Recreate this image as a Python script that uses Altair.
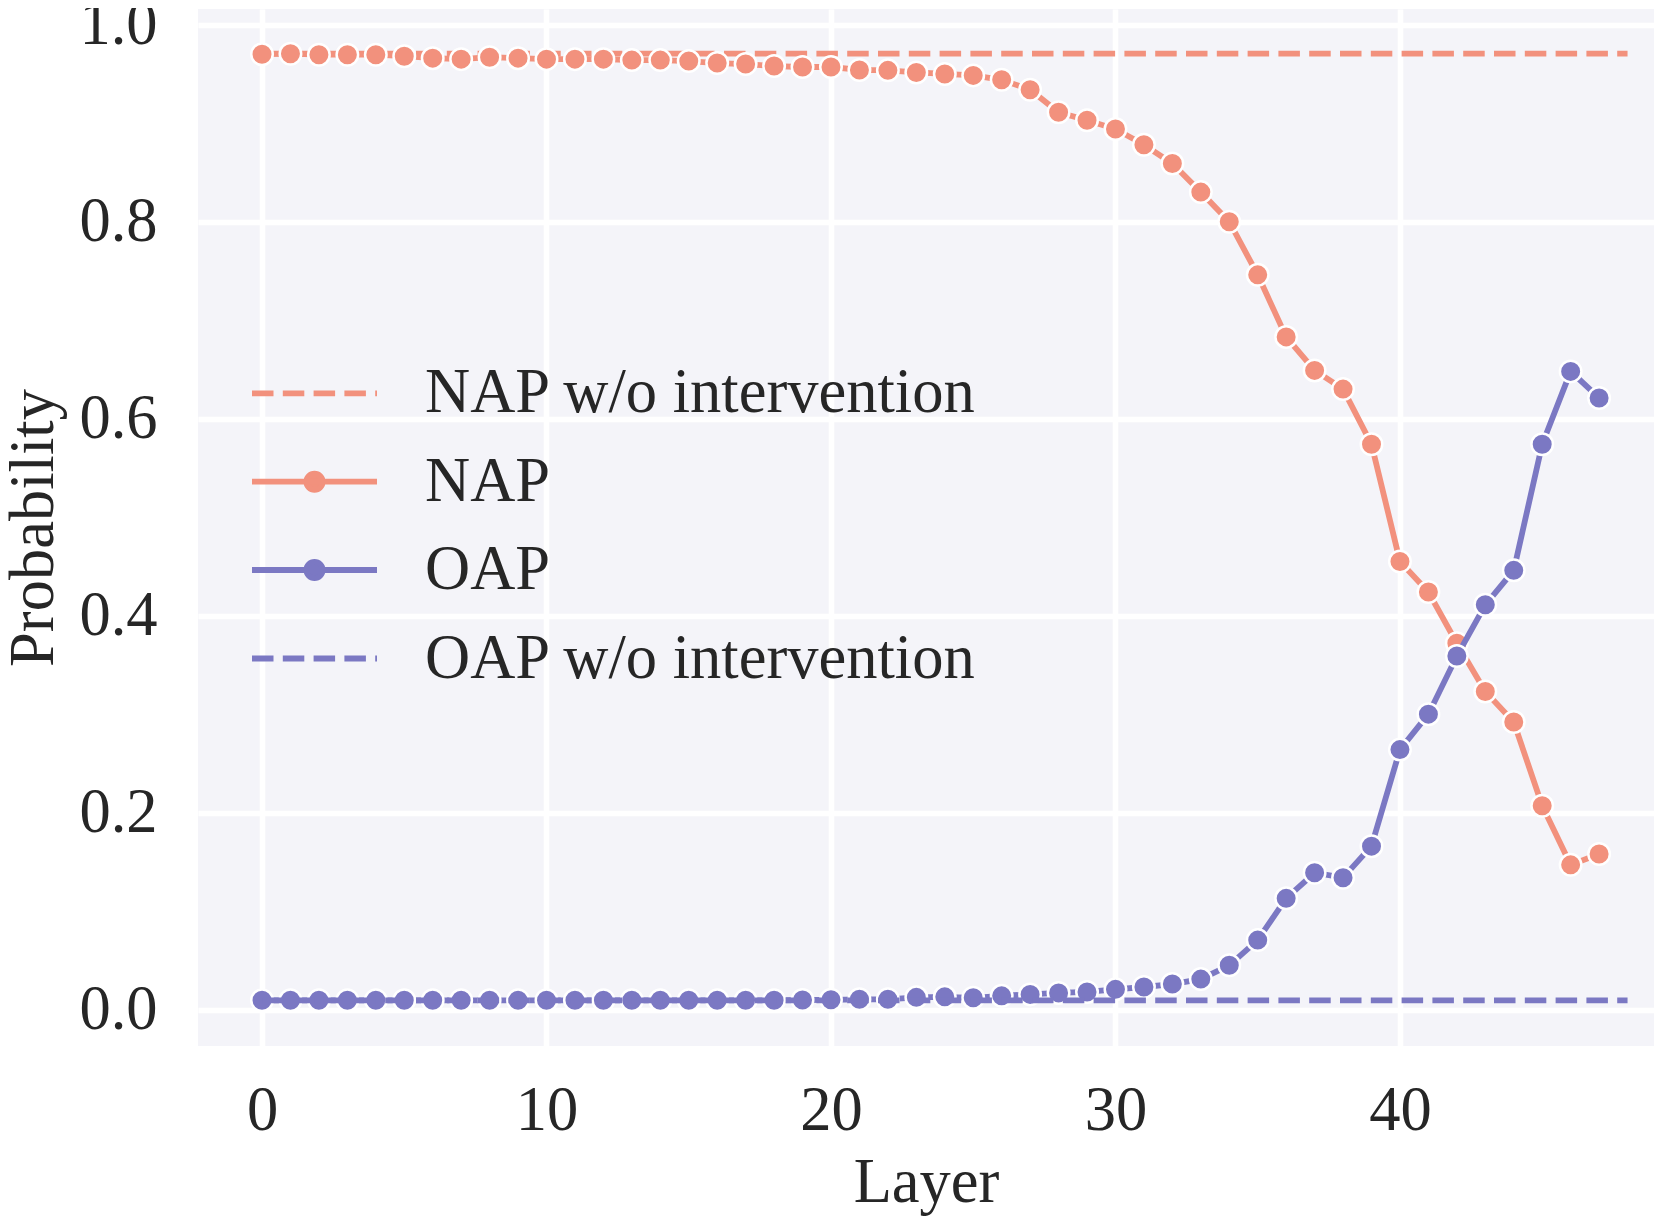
import altair as alt
import pandas as pd

# ---- data ----
layers = list(range(48))
nap = [0.970, 0.9705, 0.9695, 0.9695, 0.9695, 0.968, 0.966, 0.965, 0.967, 0.966,
       0.965, 0.965, 0.965, 0.964, 0.964, 0.963, 0.961, 0.960, 0.958, 0.957,
       0.957, 0.954, 0.9536, 0.9515, 0.950, 0.9485, 0.944, 0.934, 0.911, 0.903,
       0.894, 0.878, 0.859, 0.830, 0.800, 0.746, 0.683, 0.649, 0.630, 0.574,
       0.455, 0.424, 0.372, 0.323, 0.292, 0.207, 0.147, 0.158]
oap = [0.0095, 0.0095, 0.0095, 0.0095, 0.0095, 0.0095, 0.0095, 0.0095, 0.0095, 0.0095,
       0.0095, 0.0095, 0.0095, 0.0095, 0.0095, 0.0095, 0.0095, 0.0095, 0.0095, 0.0098,
       0.0100, 0.0105, 0.0105, 0.0125, 0.013, 0.012, 0.014, 0.0155, 0.017, 0.018,
       0.0206, 0.023, 0.026, 0.031, 0.045, 0.0706, 0.113, 0.139, 0.134, 0.166,
       0.264, 0.300, 0.359, 0.411, 0.446, 0.574, 0.648, 0.621]
nap_wo = 0.9705
oap_wo = 0.0095
labels = ["NAP w/o intervention", "NAP", "OAP", "OAP w/o intervention"]
x_ticks = [0, 10, 20, 30, 40]
y_ticks = [0.0, 0.2, 0.4, 0.6, 0.8, 1.0]

ORANGE = "#F2917D"
PURPLE = "#7B78C3"
FONT = "Liberation Serif"
TXT = "#262626"
FS = 62.5
LW = 5.8
DASH = [21.5, 9.3]
SYM = 15625
LINE_PT = "M-1,0H1M0.13,0A0.13,0.13,0,1,1,-0.13,0A0.13,0.13,0,1,1,0.13,0Z"
LINE_ONLY = "M-1,0H1"
PT_SIZE = 462

df_nap = pd.DataFrame({"layer": layers, "p": nap, "s": labels[1]})
df_oap = pd.DataFrame({"layer": layers, "p": oap, "s": labels[2]})
df_nap_wo = pd.DataFrame({"x0": [layers[0]], "x1": [len(layers)], "p": [nap_wo], "s": [labels[0]]})
df_oap_wo = pd.DataFrame({"x0": [layers[0]], "x1": [len(layers)], "p": [oap_wo], "s": [labels[3]]})

xscale = alt.Scale(domain=[-2.25, 48.93], nice=False, zero=False)
yscale = alt.Scale(domain=[-0.0369, 1.0159], nice=False, zero=False)

xaxis = alt.Axis(values=x_ticks, title="Layer", labelPadding=34, titlePadding=11,
                 labelFlush=False, labelOverlap=False)
yaxis = alt.Axis(values=y_ticks, format=".1f", title="Probability", labelPadding=41,
                 titlePadding=13, labelFlush=False, labelOverlap=False)

LX = 51
LY = [318.8, 407.2, 495.5, 584.0]


def legend_dash(i, col):
    return alt.Legend(title=None, orient="none", legendX=LX, legendY=LY[i],
                      symbolType=LINE_ONLY, symbolSize=SYM, symbolDash=DASH,
                      symbolStrokeWidth=LW, symbolStrokeColor=col,
                      symbolFillColor="transparent", labelOffset=45, padding=0)


def legend_pt(i, col):
    return alt.Legend(title=None, orient="none", legendX=LX, legendY=LY[i],
                      symbolType=LINE_PT, symbolSize=SYM,
                      symbolStrokeWidth=LW, symbolStrokeColor=col,
                      symbolFillColor=col, labelOffset=45, padding=0)


def cscale(lbl, col):
    return alt.Scale(domain=[lbl], range=[col])


rule_nap = alt.Chart(df_nap_wo).mark_rule(strokeWidth=LW, strokeDash=DASH).encode(
    x=alt.X("x0:Q", scale=xscale, axis=xaxis),
    x2="x1:Q",
    y=alt.Y("p:Q", scale=yscale, axis=yaxis),
    color=alt.Color("s:N", scale=cscale(labels[0], ORANGE), legend=legend_dash(0, ORANGE)),
)

line_nap = alt.Chart(df_nap).mark_line(strokeWidth=LW).encode(
    x=alt.X("layer:Q", scale=xscale, axis=xaxis),
    y=alt.Y("p:Q", scale=yscale, axis=yaxis),
    color=alt.Color("s:N", scale=cscale(labels[1], ORANGE), legend=legend_pt(1, ORANGE)),
)
pts_nap = alt.Chart(df_nap).mark_point(filled=True, size=PT_SIZE, opacity=1, stroke="white",
                                        strokeWidth=2.5).encode(
    x=alt.X("layer:Q", scale=xscale, axis=xaxis),
    y=alt.Y("p:Q", scale=yscale, axis=yaxis),
    fill=alt.Fill("s:N", scale=cscale(labels[1], ORANGE), legend=None),
)

line_oap = alt.Chart(df_oap).mark_line(strokeWidth=LW).encode(
    x=alt.X("layer:Q", scale=xscale, axis=xaxis),
    y=alt.Y("p:Q", scale=yscale, axis=yaxis),
    color=alt.Color("s:N", scale=cscale(labels[2], PURPLE), legend=legend_pt(2, PURPLE)),
)
pts_oap = alt.Chart(df_oap).mark_point(filled=True, size=PT_SIZE, opacity=1, stroke="white",
                                        strokeWidth=2.5).encode(
    x=alt.X("layer:Q", scale=xscale, axis=xaxis),
    y=alt.Y("p:Q", scale=yscale, axis=yaxis),
    fill=alt.Fill("s:N", scale=cscale(labels[2], PURPLE), legend=None),
)

rule_oap = alt.Chart(df_oap_wo).mark_rule(strokeWidth=LW, strokeDash=DASH).encode(
    x=alt.X("x0:Q", scale=xscale, axis=xaxis),
    x2="x1:Q",
    y=alt.Y("p:Q", scale=yscale, axis=yaxis),
    color=alt.Color("s:N", scale=cscale(labels[3], PURPLE), legend=legend_dash(3, PURPLE)),
)

chart = alt.layer(rule_nap, line_nap, pts_nap, line_oap, pts_oap, rule_oap).resolve_scale(
    color="independent", fill="independent"
).properties(
    width=1456, height=1037,
    autosize=alt.AutoSizeParams(type="none"),
    padding={"left": 190, "top": 1, "right": 0, "bottom": 170},
).configure_view(
    fill="#F4F4F9", stroke=None, strokeWidth=0
).configure_axis(
    domain=False, ticks=False, tickSize=0, grid=True, gridColor="white", gridWidth=5.5,
    labelFont=FONT, labelFontSize=FS, labelColor=TXT,
    titleFont=FONT, titleFontSize=FS, titleColor=TXT, titleFontWeight="normal",
).configure_legend(
    labelFont=FONT, labelFontSize=FS, labelColor=TXT, labelLimit=0,
)

chart.save("out.html", embed_options={"renderer": "svg", "actions": False})
